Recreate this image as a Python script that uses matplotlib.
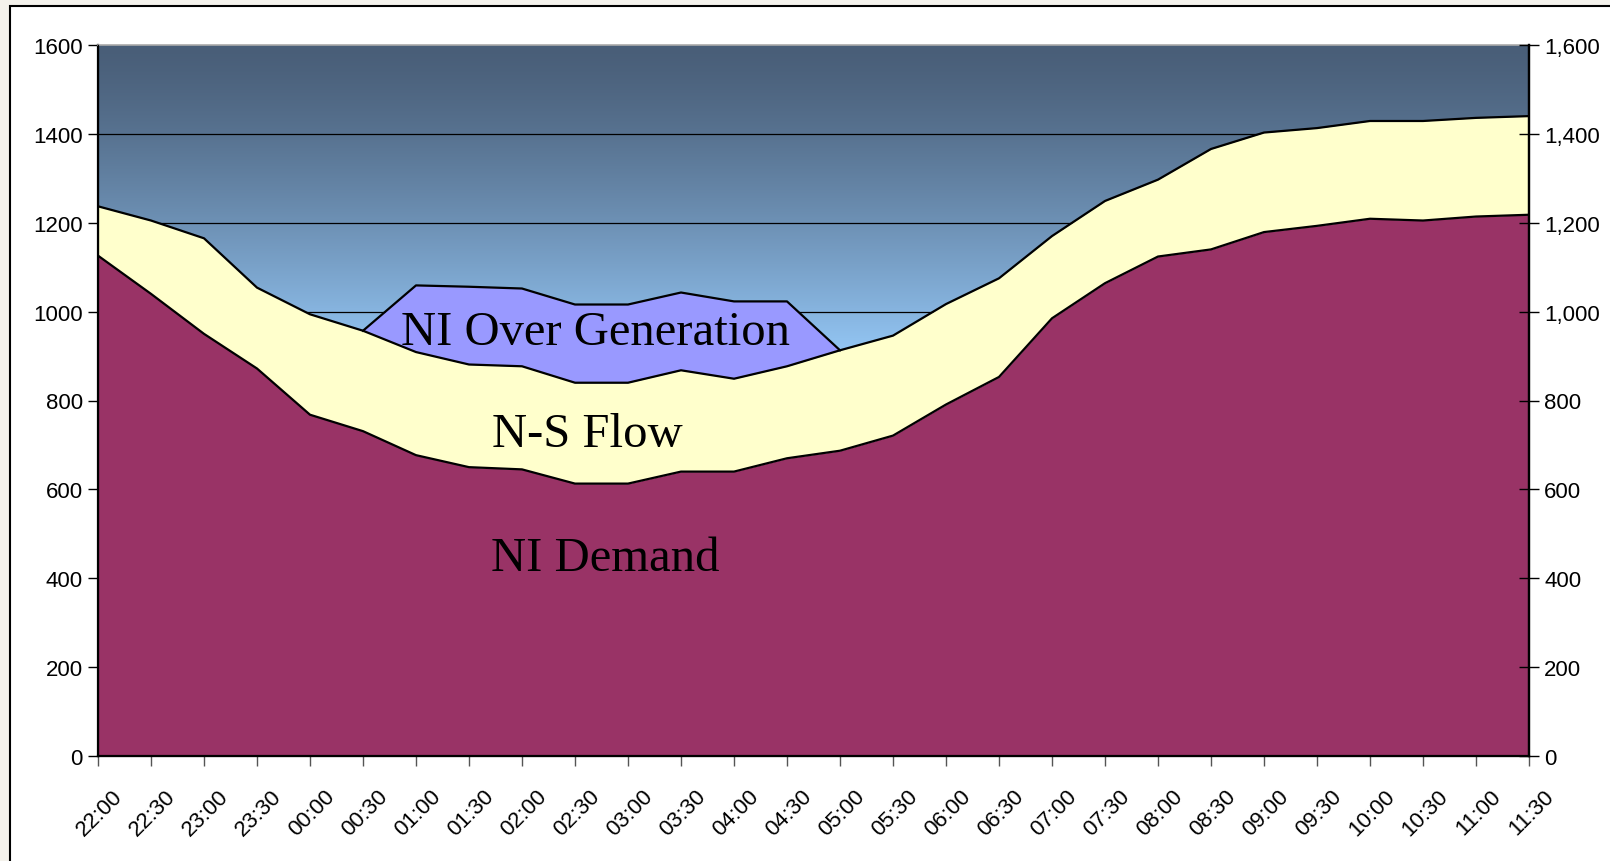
import numpy as np
import matplotlib
matplotlib.use("Agg")
from matplotlib import pyplot as plt
from matplotlib.patches import Rectangle
from matplotlib.ticker import FuncFormatter
import matplotlib.transforms as mtransforms

times = ["22:00", "22:30", "23:00", "23:30", "00:00", "00:30", "01:00", "01:30",
         "02:00", "02:30", "03:00", "03:30", "04:00", "04:30", "05:00", "05:30",
         "06:00", "06:30", "07:00", "07:30", "08:00", "08:30", "09:00", "09:30",
         "10:00", "10:30", "11:00", "11:30"]

# MW
ni_demand = [1126, 1040, 950, 872, 768, 731, 677, 650, 645, 613, 613, 640, 640, 670,
             687, 721, 791, 853, 985, 1064, 1124, 1140, 1179, 1193, 1209, 1205, 1214, 1218]
ns_flow = [111, 165, 215, 182, 226, 226, 232, 231, 232, 227, 227, 228, 209, 207,
           226, 225, 226, 222, 185, 185, 173, 226, 224, 220, 220, 224, 222, 222]
ni_over_gen = [0, 0, 0, 0, 0, 0, 150, 175, 175, 176, 176, 175, 174, 146,
               0, 0, 0, 0, 0, 0, 0, 0, 0, 0, 0, 0, 0, 0]

x = np.arange(len(times))
demand = np.array(ni_demand)
flow_top = demand + np.array(ns_flow)
over_top = flow_top + np.array(ni_over_gen)

plt.rcParams["font.family"] = ["Liberation Sans", "DejaVu Sans"]

fig = plt.figure(figsize=(16.1, 8.62), dpi=100)
fig.patch.set_facecolor("#f4f2ec")
# slide frame
fig.patches.append(Rectangle((10 / 1610, -0.05), 1.1, 1.05 - 7 / 862,
                             transform=fig.transFigure, facecolor="white",
                             edgecolor="black", linewidth=1.5, zorder=-1))

ax = fig.add_axes([98 / 1610, 1 - 757 / 862, (1529 - 98) / 1610, (757 - 46) / 862])
ax.set_xlim(0, len(times) - 1)
ax.set_ylim(0, 1600)

# sky gradient: dark slate at the top, light blue lower down
top_c = np.array([73, 94, 120]) / 255
low_c = np.array([146, 196, 242]) / 255
yy = np.linspace(1600, 0, 400)
f = np.clip((1600 - yy) / 680, 0, 1) ** 1.3
grad = top_c[None, :] * (1 - f[:, None]) + low_c[None, :] * f[:, None]
ax.imshow(grad[:, None, :], extent=[0, len(times) - 1, 0, 1600], aspect="auto", zorder=0)

for g in range(200, 1600, 200):
    ax.axhline(g, color="black", lw=0.9, zorder=0.5)

ax.fill_between(x, 0, demand, color="#993366", lw=0, zorder=1)
ax.fill_between(x, demand, flow_top, color="#FFFFCC", lw=0, zorder=1)
ax.fill_between(x, flow_top, over_top, color="#9999FF", lw=0, zorder=1)

nz = np.nonzero(ni_over_gen)[0]
lo, hi = nz[0] - 1, nz[-1] + 1
ax.plot(x, demand, color="black", lw=1.6, zorder=2)
ax.plot(x, flow_top, color="black", lw=1.6, zorder=2)
ax.plot(x[lo:hi + 1], over_top[lo:hi + 1], color="black", lw=1.6, zorder=2)

serif = ["Liberation Serif", "DejaVu Serif"]
ax.text(9.38, 955, "NI Over Generation", family=serif, fontsize=35, ha="center", va="center", zorder=3)
ax.text(9.23, 725, "N-S Flow", family=serif, fontsize=35, ha="center", va="center", zorder=3)
ax.text(9.58, 446, "NI Demand", family=serif, fontsize=35, ha="center", va="center", zorder=3)

ax.set_yticks(range(0, 1601, 200))
ax.tick_params(axis="y", direction="out", length=7, width=1, labelsize=16, pad=4)
ax.set_xticks(x)
ax.set_xticklabels(times, rotation=45, ha="right", rotation_mode="anchor")
ax.tick_params(axis="x", direction="out", length=7, width=1, color="#555555", labelsize=16, pad=10)
offset = mtransforms.ScaledTranslation(14 / 100, -6 / 100, fig.dpi_scale_trans)
for lab in ax.get_xticklabels():
    lab.set_transform(lab.get_transform() + offset)

for side in ("left", "bottom", "right"):
    ax.spines[side].set_linewidth(1.6)
ax.spines["top"].set_color("#aaaaaa")
ax.spines["top"].set_linewidth(1.2)

ax2 = ax.twinx()
ax2.set_ylim(0, 1600)
ax2.set_yticks(range(0, 1601, 200))
ax2.yaxis.set_major_formatter(FuncFormatter(lambda v, p: f"{int(v):,}"))
ax2.tick_params(axis="y", direction="inout", length=14, width=1, labelsize=16, pad=4)
ax2.spines["right"].set_linewidth(1.6)
ax2.spines["top"].set_visible(False)

fig.savefig("out.png", dpi=100, facecolor=fig.get_facecolor())
